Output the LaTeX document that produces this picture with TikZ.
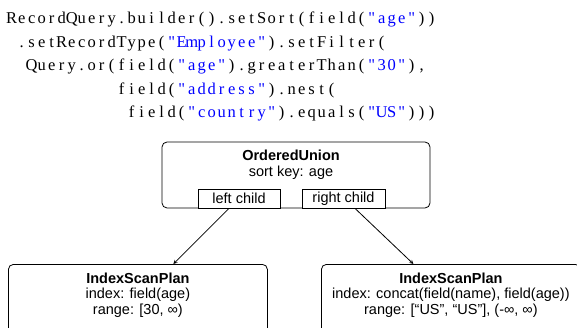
\documentclass[tikz,border=0pt]{standalone}
\usepackage{fontspec}
\setsansfont{Liberation Sans}
\newfontfamily\codefont{Liberation Serif}
\usepackage{xcolor}
\usetikzlibrary{positioning}

\newlength\colwd
\setlength\colwd{10pt}
\newcommand\codechars[1]{\codeloop#1\relax}
\def\codeloop#1{\ifx\relax#1\else\makebox[\colwd]{#1}\expandafter\codeloop\fi}
\newcommand\codestr[1]{{\color{blue}\codechars{#1}}}

\begin{document}
\begin{tikzpicture}[x=1pt,y=-1pt,
  codeline/.style={anchor=base west,inner sep=0,font=\codefont\fontsize{16.5}{18}\selectfont},
  planbox/.style={draw,rounded corners=5pt,line width=0.8pt},
  childbox/.style={draw,fill=white,line width=0.8pt,inner sep=0,minimum width=82pt,minimum height=19pt,font=\sffamily\fontsize{14.5}{15.5}\selectfont},
  plantext/.style={align=center,inner sep=0,font=\sffamily\fontsize{14.5}{15.5}\selectfont}]
\useasboundingbox (0,0) rectangle (577,328);
\clip (0,0) rectangle (577,328);
% the query
\node[codeline] (q1) at (6.5,24) {\codechars{RecordQuery.builder().setSort(field(}\codestr{"age"}\codechars{))}};
\node[codeline] (q2) at (6.5,47.5) {\codechars{~.setRecordType(}\codestr{"Employee"}\codechars{).setFilter(}};
\node[codeline] (q3) at (6.5,71) {\codechars{~~Query.or(field(}\codestr{"age"}\codechars{).greaterThan(}\codestr{"30"}\codechars{),}};
\node[codeline] (q4) at (6.5,94.5) {\codechars{~~~~~~~~~~~field(}\codestr{"address"}\codechars{).nest(}};
\node[codeline] (q5) at (6.5,118) {\codechars{~~~~~~~~~~~~field(}\codestr{"country"}\codechars{).equals(}\codestr{"US"}\codechars{)))}};
% the plan
\node[planbox,minimum width=268pt,minimum height=66pt] (union) at (296,175) {};
\node[plantext,below=8.5pt of union.north,xshift=-5pt] (uniontext) {\textbf{OrderedUnion}\\sort key: age};
\node[childbox,anchor=south west] (lchild) at ([xshift=36pt]union.south west) {left child};
\node[childbox,anchor=south west,minimum width=83pt] (rchild) at ([xshift=140pt]union.south west) {right child};
\node[planbox,anchor=north west,minimum width=259pt,minimum height=90pt] (lscan) at (8,264) {};
\node[plantext,below=8.5pt of lscan.north] (lscantext) {\textbf{IndexScanPlan}\\index: field(age)\\range: [30, ∞)};
\node[planbox,anchor=north west,minimum width=259pt,minimum height=90pt] (rscan) at (321,264) {};
\node[plantext,below=8.5pt of rscan.north] (rscantext) {\textbf{IndexScanPlan}\\index: concat(field(name), field(age))\\range: [“US”, “US”], (-∞, ∞)};
\draw[-stealth,line width=0.8pt] ([xshift=-10pt]lchild.south) -- ([xshift=35.5pt]lscan.north);
\draw[-stealth,line width=0.8pt] ([xshift=11.5pt]rchild.south) -- ([xshift=-37.5pt]rscan.north);
\end{tikzpicture}
\end{document}
